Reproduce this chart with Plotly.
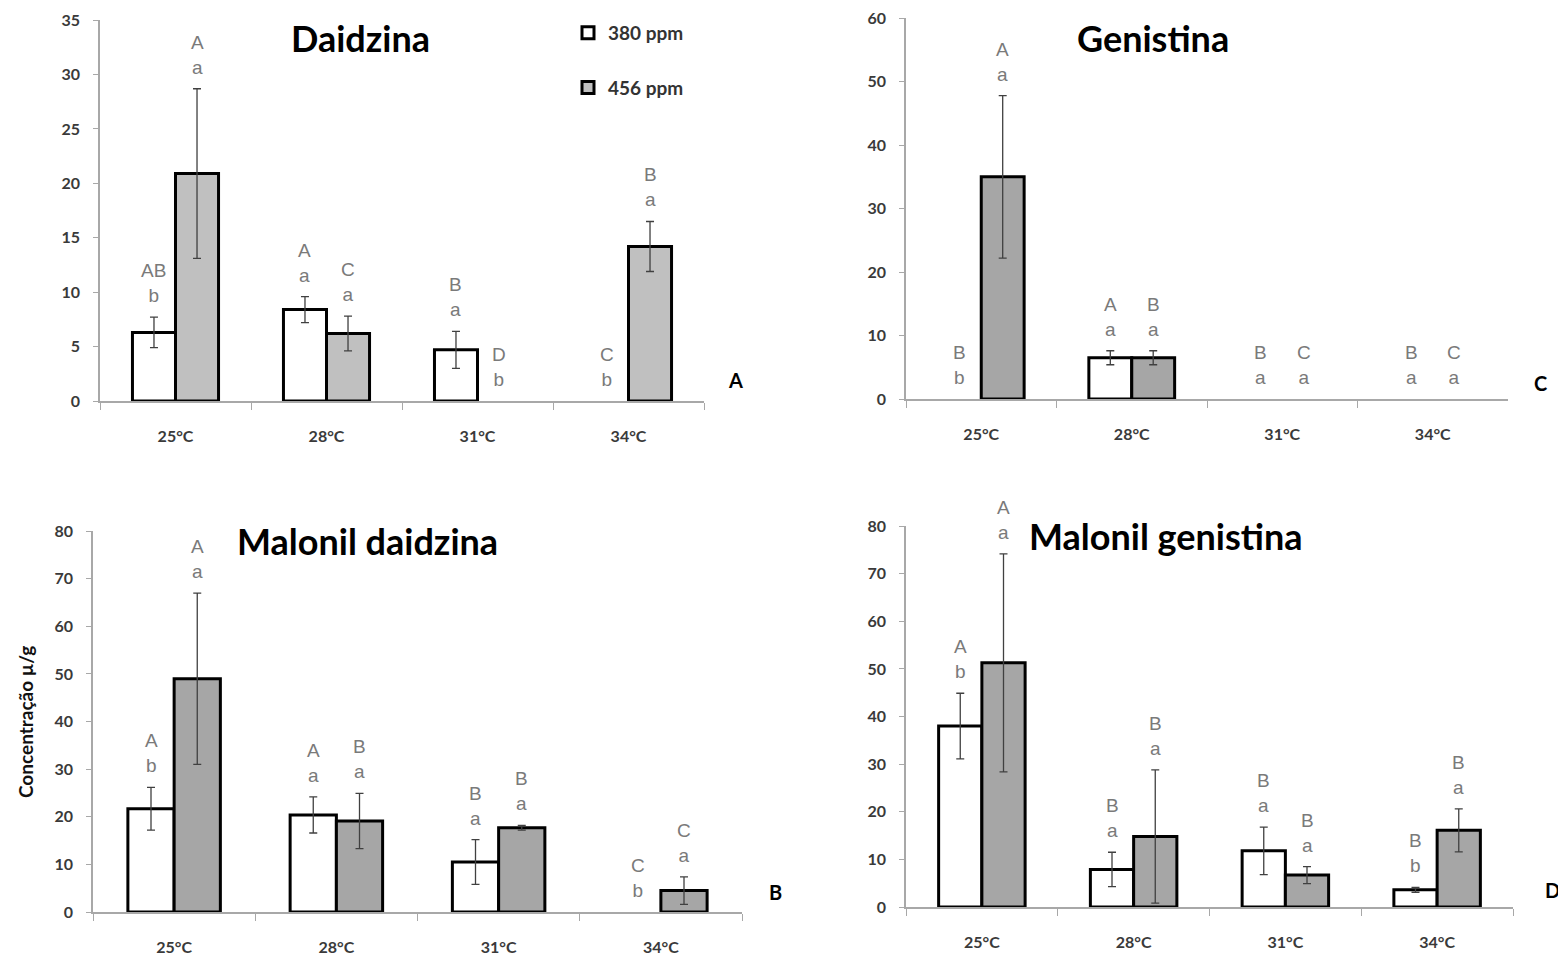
import plotly.graph_objects as go

# ---------------- data ----------------
temps = ["25°C", "28°C", "31°C", "34°C"]

daidzina_380 = [6.3, 8.4, 4.7, 0]
daidzina_380_err = [1.4, 1.2, 1.7, None]
daidzina_456 = [20.9, 6.2, 0, 14.2]
daidzina_456_err = [7.8, 1.6, None, 2.3]
daidzina_380_upper = ["AB", "A", "B", "C"]
daidzina_380_lower = ["b", "a", "a", "b"]
daidzina_456_upper = ["A", "C", "D", "B"]
daidzina_456_lower = ["a", "a", "b", "a"]

genistina_380 = [0, 6.5, 0, 0]
genistina_380_err = [None, 1.1, None, None]
genistina_456 = [35.0, 6.5, 0, 0]
genistina_456_err = [12.8, 1.1, None, None]
genistina_380_upper = ["B", "A", "B", "B"]
genistina_380_lower = ["b", "a", "a", "a"]
genistina_456_upper = ["A", "B", "C", "C"]
genistina_456_lower = ["a", "a", "a", "a"]

mdaidzina_380 = [21.7, 20.4, 10.5, 0]
mdaidzina_380_err = [4.5, 3.8, 4.7, None]
mdaidzina_456 = [49.0, 19.1, 17.7, 4.5]
mdaidzina_456_err = [18.0, 5.8, 0.5, 2.9]
mdaidzina_380_upper = ["A", "A", "B", "C"]
mdaidzina_380_lower = ["b", "a", "a", "b"]
mdaidzina_456_upper = ["A", "B", "B", "C"]
mdaidzina_456_lower = ["a", "a", "a", "a"]

mgenistina_380 = [38.0, 7.9, 11.8, 3.6]
mgenistina_380_err = [6.9, 3.6, 5.0, 0.5]
mgenistina_456 = [51.3, 14.8, 6.7, 16.1]
mgenistina_456_err = [22.9, 14.0, 1.8, 4.5]
mgenistina_380_upper = ["A", "B", "B", "B"]
mgenistina_380_lower = ["b", "a", "a", "b"]
mgenistina_456_upper = ["A", "B", "B", "B"]
mgenistina_456_lower = ["a", "a", "a", "a"]

series_names = ["380 ppm", "456 ppm"]

# ---------------- layout helpers ----------------
W, H = 1566, 960
OFF = 8  # page body margin offset


def px_x(p):
    return (p - OFF) / W


def px_y(p):
    return 1 - (p - OFF) / H


panels = [
    dict(title="Daidzina", tag="A", ax="", v380=daidzina_380, e380=daidzina_380_err,
         v456=daidzina_456, e456=daidzina_456_err,
         u380=daidzina_380_upper, l380=daidzina_380_lower,
         u456=daidzina_456_upper, l456=daidzina_456_lower,
         gray="#c0c0c0", ymax=35, dtick=5,
         xdom=(100, 704), ydom=(401, 20), title_pos=(360, 38), tag_pos=(735, 380)),
    dict(title="Genistina", tag="C", ax="2", v380=genistina_380, e380=genistina_380_err,
         v456=genistina_456, e456=genistina_456_err,
         u380=genistina_380_upper, l380=genistina_380_lower,
         u456=genistina_456_upper, l456=genistina_456_lower,
         gray="#a6a6a6", ymax=60, dtick=10,
         xdom=(906, 1508), ydom=(399, 18), title_pos=(1153, 38), tag_pos=(1540, 383)),
    dict(title="Malonil daidzina", tag="B", ax="3", v380=mdaidzina_380, e380=mdaidzina_380_err,
         v456=mdaidzina_456, e456=mdaidzina_456_err,
         u380=mdaidzina_380_upper, l380=mdaidzina_380_lower,
         u456=mdaidzina_456_upper, l456=mdaidzina_456_lower,
         gray="#a6a6a6", ymax=80, dtick=10,
         xdom=(93, 742), ydom=(912, 531), title_pos=(367, 541), tag_pos=(775, 892)),
    dict(title="Malonil genistina", tag="D", ax="4", v380=mgenistina_380, e380=mgenistina_380_err,
         v456=mgenistina_456, e456=mgenistina_456_err,
         u380=mgenistina_380_upper, l380=mgenistina_380_lower,
         u456=mgenistina_456_upper, l456=mgenistina_456_lower,
         gray="#a6a6a6", ymax=80, dtick=10,
         xdom=(906, 1513), ydom=(907, 526), title_pos=(1166, 536), tag_pos=(1552, 890)),
]

BARGAP = 0.43
half = (1 - BARGAP) / 4  # offset of each bar centre from category centre

tick_font = dict(family="Lato, Liberation Sans", size=16, color="#3a3a3a", weight="bold")
letter_font = dict(family="Liberation Sans, Arial", size=19, color="#7a7a7a")

fig = go.Figure()
annotations = []
layout_axes = {}

for i, p in enumerate(panels):
    xa = "x" + p["ax"]
    ya = "y" + p["ax"]
    for k, (name, vals, errs, color) in enumerate([
            (series_names[0], p["v380"], p["e380"], "#ffffff"),
            (series_names[1], p["v456"], p["e456"], p["gray"])]):
        # bars with zero concentration are simply not drawn
        shown = [v if v > 0 else None for v in vals]
        fig.add_trace(go.Bar(
            x=temps, y=shown, name=name, xaxis=xa, yaxis=ya,
            marker=dict(color=color, line=dict(color="#000000", width=3)),
            error_y=dict(type="data", array=[e if e is not None else 0 for e in errs],
                         color="#404040", thickness=1.3, width=4),
            showlegend=(i == 0), legendgroup=name,
        ))
    # letters
    for k, (vals, errs, up, lo) in enumerate([
            (p["v380"], p["e380"], p["u380"], p["l380"]),
            (p["v456"], p["e456"], p["u456"], p["l456"])]):
        for j in range(len(temps)):
            top = vals[j] + (errs[j] or 0)
            annotations.append(dict(
                x=j + (-half if k == 0 else half), y=top, xref=xa, yref=ya,
                text=f"{up[j]}<br>{lo[j]}", showarrow=False, yanchor="bottom",
                xanchor="center", yshift=9, font=letter_font))
    # title
    annotations.append(dict(
        x=px_x(p["title_pos"][0]), y=px_y(p["title_pos"][1]), xref="paper", yref="paper",
        text=f"<b>{p['title']}</b>", showarrow=False, xanchor="center", yanchor="middle",
        font=dict(family="Lato, Open Sans", size=36, color="#000000")))
    # panel tag
    annotations.append(dict(
        x=px_x(p["tag_pos"][0]), y=px_y(p["tag_pos"][1]), xref="paper", yref="paper",
        text=f"<b>{p['tag']}</b>", showarrow=False, xanchor="center", yanchor="middle",
        font=dict(family="Lato, Open Sans", size=20, color="#000000")))

    key = p["ax"]
    layout_axes["xaxis" + key] = dict(
        domain=[px_x(p["xdom"][0]), px_x(p["xdom"][1])], anchor=ya,
        type="category", categoryorder="array", categoryarray=temps, range=[-0.5, 3.5],
        showline=True, linecolor="#a8a8a8", linewidth=1.5,
        ticks="outside", tickson="boundaries", ticklen=7, tickcolor="#a8a8a8", tickwidth=1,
        ticklabelstandoff=20, tickfont=tick_font, showgrid=False, zeroline=False,
        fixedrange=True, automargin=False, ticklabeloverflow="allow")
    layout_axes["yaxis" + key] = dict(
        domain=[px_y(p["ydom"][0]), px_y(p["ydom"][1])], anchor=xa,
        range=[0, p["ymax"] * 1.0005], tickmode="array",
        tickvals=list(range(0, p["ymax"] + 1, p["dtick"])),
        showline=True, linecolor="#a8a8a8", linewidth=1.5,
        ticks="outside", ticklen=5, tickcolor="#a8a8a8", tickwidth=1,
        ticklabelstandoff=10, tickfont=tick_font, showgrid=False, zeroline=False,
        fixedrange=True, automargin=False, ticklabeloverflow="allow")

# y-axis title
annotations.append(dict(
    x=px_x(25), y=px_y(722), xref="paper", yref="paper", text="<b>Concentração µ/g</b>",
    showarrow=False, textangle=-90, xanchor="center", yanchor="middle",
    font=dict(family="Lato, Open Sans", size=19, color="#111111")))

fig.update_layout(
    width=W, height=H, autosize=False,
    margin=dict(l=0, r=0, t=0, b=0, pad=0, autoexpand=False),
    paper_bgcolor="#ffffff", plot_bgcolor="#ffffff",
    barmode="group", bargap=BARGAP, bargroupgap=0,
    showlegend=True,
    legend=dict(x=px_x(568), y=px_y(14), xanchor="left", yanchor="top",
                traceorder="grouped", tracegroupgap=27,
                font=dict(family="Lato, Open Sans", size=19, color="#333333", weight="bold"),
                bgcolor="rgba(0,0,0,0)", itemwidth=30),
    annotations=annotations,
    **layout_axes,
)

fig.write_html("out.html")
